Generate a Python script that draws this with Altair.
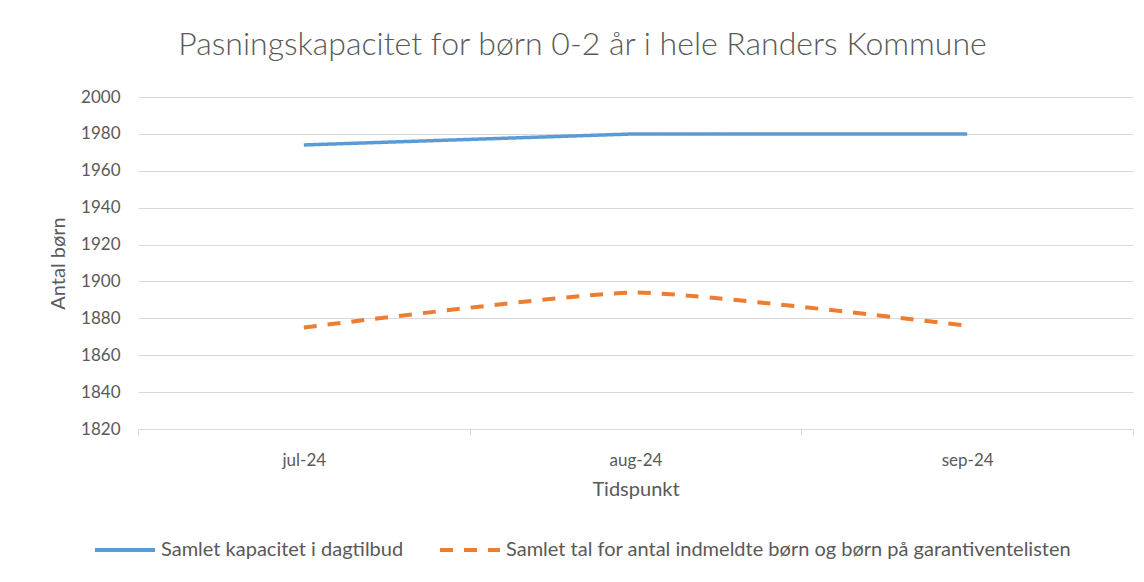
import altair as alt
import pandas as pd

months = ["jul-24", "aug-24", "sep-24"]
series_names = [
    "Samlet kapacitet i dagtilbud",
    "Samlet tal for antal indmeldte børn og børn på garantiventelisten",
]
kapacitet = [1974, 1980, 1980]
indmeldte = [1875, 1894, 1876]
y_ticks = list(range(1820, 2001, 20))

rows = []
for m, v in zip(months, kapacitet):
    rows.append({"Tidspunkt": m, "Antal": v, "Serie": series_names[0]})
for m, v in zip(months, indmeldte):
    rows.append({"Tidspunkt": m, "Antal": v, "Serie": series_names[1]})
df = pd.DataFrame(rows)

FONT = "Lato"
GREY = "#595959"

x = alt.X(
    "Tidspunkt:N",
    sort=months,
    bandPosition=0.5,
    scale=alt.Scale(type="band", paddingInner=0, paddingOuter=0),
    axis=alt.Axis(
        title="Tidspunkt",
        labelAngle=0,
        tickBand="extent",
        grid=False,
        domainColor="#d9d9d9",
        tickColor="#d9d9d9",
        tickSize=6,
        labelPadding=17,
        titlePadding=11,
    ),
)
y = alt.Y(
    "Antal:Q",
    scale=alt.Scale(domain=[1820, 2000], nice=False, zero=False),
    axis=alt.Axis(
        title="Antal børn",
        values=y_ticks,
        format="d",
        domain=False,
        ticks=False,
        gridColor="#d9d9d9",
        labelPadding=18,
        titlePadding=12,
    ),
)
color = alt.Color(
    "Serie:N",
    scale=alt.Scale(domain=series_names, range=["#5b9bd5", "#ed7d31"]),
    legend=alt.Legend(
        title=None,
        orient="none",
        direction="horizontal",
        legendX=-45,
        legendY=421,
        symbolType="stroke",
        symbolSize=3600,
        symbolStrokeWidth=4,
        columnPadding=28,
        labelFontSize=20,
        labelColor=GREY,
        labelFont=FONT,
        labelLimit=0,
    ),
)
dash = alt.StrokeDash(
    "Serie:N",
    scale=alt.Scale(domain=series_names, range=[[1, 0], [13, 11]]),
    legend=None,
)

base = alt.Chart(df).encode(x=x, y=y, color=color, strokeDash=dash)

blue = base.transform_filter(alt.datum.Serie == series_names[0]).mark_line(
    strokeWidth=3.5, interpolate="linear"
)
orange = base.transform_filter(alt.datum.Serie == series_names[1]).mark_line(
    strokeWidth=4, interpolate="cardinal", tension=0.5
)

chart = (
    alt.layer(blue, orange)
    .properties(
        width=995,
        height=332,
        title=alt.TitleParams(
            "Pasningskapacitet for børn 0-2 år i hele Randers Kommune",
            fontSize=32,
            fontWeight=300,
            color=GREY,
            font=FONT,
            anchor="middle",
            dx=-53,
            offset=26,
        ),
        autosize=alt.AutoSizeParams(type="none"),
        padding={"left": 130, "top": 89, "right": 3, "bottom": 145},
    )
    .configure_axis(
        labelFont=FONT,
        titleFont=FONT,
        labelFontSize=17,
        titleFontSize=20,
        labelColor=GREY,
        titleColor=GREY,
        titleFontWeight="normal",
    )
    .configure_view(stroke=None)
)

chart.save("out.html", embed_options={"renderer": "svg", "actions": False})
